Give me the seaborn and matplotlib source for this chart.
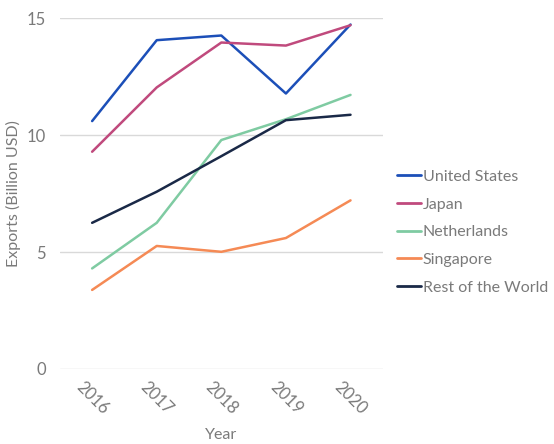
import pandas as pd
import seaborn as sns
from matplotlib import pyplot as plt

# Values (billion USD)
years = ['2016', '2017', '2018', '2019', '2020']
united_states = [10.6, 14.06, 14.26, 11.78, 14.73]
japan = [9.29, 12.04, 13.96, 13.83, 14.7]
netherlands = [4.30, 6.25, 9.79, 10.68, 11.72]
singapore = [3.38, 5.26, 5.01, 5.60, 7.21]
rest_of_world = [6.25, 7.58, 9.10, 10.64, 10.87]

series = {
    'United States': united_states,
    'Japan': japan,
    'Netherlands': netherlands,
    'Singapore': singapore,
    'Rest of the World': rest_of_world,
}
palette = {
    'United States': '#1c4fb8',
    'Japan': '#c04a7d',
    'Netherlands': '#7fcba2',
    'Singapore': '#f58a55',
    'Rest of the World': '#1a2947',
}

rows = []
for name, vals in series.items():
    for yr, v in zip(years, vals):
        rows.append({'Year': yr, 'Exports': v, 'Country': name})
df = pd.DataFrame(rows)

sns.set_style('white')
plt.rcParams['font.family'] = ['Lato', 'DejaVu Sans']
text_col = '#7a7a7a'

fig, ax = plt.subplots(figsize=(5.54, 4.44), dpi=100)
fig.subplots_adjust(left=0.108, right=0.691, bottom=0.169, top=0.959)

sns.lineplot(data=df, x='Year', y='Exports', hue='Country', palette=palette,
             hue_order=list(series.keys()), linewidth=1.8, ax=ax, sort=False)

ax.set_ylim(0, 15)
ax.set_xlim(-0.5, 4.5)
ax.set_yticks([0, 5, 10, 15])
ax.yaxis.grid(True, color='#d9d9d9', linewidth=1)
ax.set_axisbelow(True)
sns.despine(left=True, bottom=True)
ax.tick_params(axis='both', length=0, labelsize=12, colors=text_col, pad=10)
for lbl in ax.get_xticklabels():
    lbl.set_rotation(-45)
    lbl.set_ha('center')
    lbl.set_va('top')
ax.tick_params(axis='x', pad=7)

ax.set_xlabel('Year', fontsize=11.5, color=text_col, labelpad=8)
ax.set_ylabel('Exports (Billion USD)', fontsize=11.5, color=text_col, labelpad=4)

leg = ax.legend(loc='center left', bbox_to_anchor=(1.0, 0.39), frameon=False,
                handlelength=1.5, handletextpad=0.1, labelspacing=0.85,
                fontsize=11.5, labelcolor=text_col)
for line in leg.get_lines():
    line.set_linewidth(2)

fig.savefig('out.png', dpi=100)
